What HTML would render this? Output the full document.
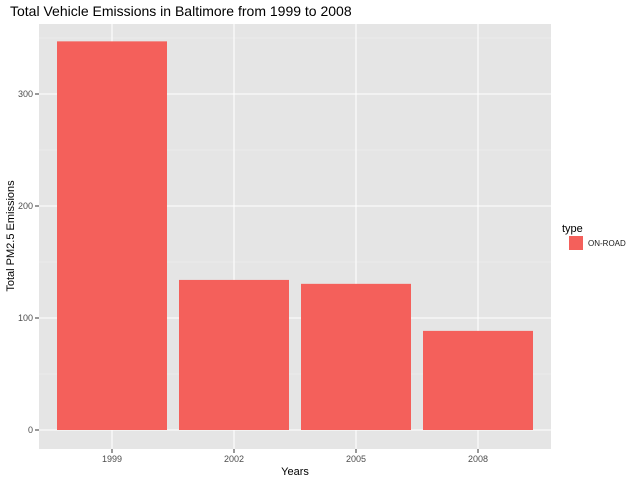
<!DOCTYPE html>
<html><head><meta charset="utf-8"><style>
body{margin:0;background:#fff;font-family:"Liberation Sans",sans-serif}
</style></head><body>
<svg width="640" height="480" id="c" font-family="Liberation Sans, sans-serif">
<text x="10" y="16" font-size="14" fill="#000">Total Vehicle Emissions in Baltimore from 1999 to 2008</text>
<rect x="39" y="24" width="512" height="425" fill="#e5e5e5"/>
<g id="grid"></g><g id="bars"></g><g id="axes"></g>
<text x="295" y="475" font-size="11" text-anchor="middle">Years</text>
<text transform="translate(14,236) rotate(-90)" font-size="11" text-anchor="middle">Total PM2.5 Emissions</text>
<text x="562" y="232" font-size="11">type</text>
<rect x="569" y="236" width="14" height="14" fill="#f4605b"/>
<text x="588" y="246" font-size="8" fill="#1a1a1a">ON-ROAD</text>
</svg>
<script>
const categories=["1999","2002","2005","2008"];
const values=[347,134,130.5,88.5];
const yTicks=[0,100,200,300];
const ns="http://www.w3.org/2000/svg";
const y=v=>430-v*1.12;
const x=i=>112+i*122;
const bw=110;
function mk(t,a,p){const e=document.createElementNS(ns,t);for(const k in a)e.setAttribute(k,a[k]);document.getElementById(p).appendChild(e);return e;}
yTicks.forEach((t,i)=>{
 const m=mk("line",{x1:39,x2:551,y1:y(t+50),y2:y(t+50),stroke:"#f2f2f2","stroke-width":0.6},"grid");
 
 
 const g=mk("line",{x1:39,x2:551,y1:y(t),y2:y(t),stroke:"#fff","stroke-width":1.1},"grid");
 
 
 const tk=mk("line",{x1:35,x2:39,y1:y(t),y2:y(t),stroke:"#333"},"axes");
 
 
 const l=mk("text",{x:33,y:y(t)+3,"font-size":9,"text-anchor":"end",fill:"#4d4d4d"},"axes");l.textContent=t;
 
 
});
categories.forEach((c,i)=>{
 const g=mk("line",{x1:x(i),x2:x(i),y1:24,y2:449,stroke:"#fff","stroke-width":1.1},"grid");
 
 
 const b=mk("rect",{x:x(i)-bw/2,y:y(values[i]),width:bw,height:y(0)-y(values[i]),fill:"#f4605b"},"bars");
 
 
 const tk=mk("line",{x1:x(i),x2:x(i),y1:449,y2:453,stroke:"#333"},"axes");
 
 
 const l=mk("text",{x:x(i),y:462,"font-size":9,"text-anchor":"middle",fill:"#4d4d4d"},"axes");l.textContent=c;
 
 
});
</script>
</body></html>
